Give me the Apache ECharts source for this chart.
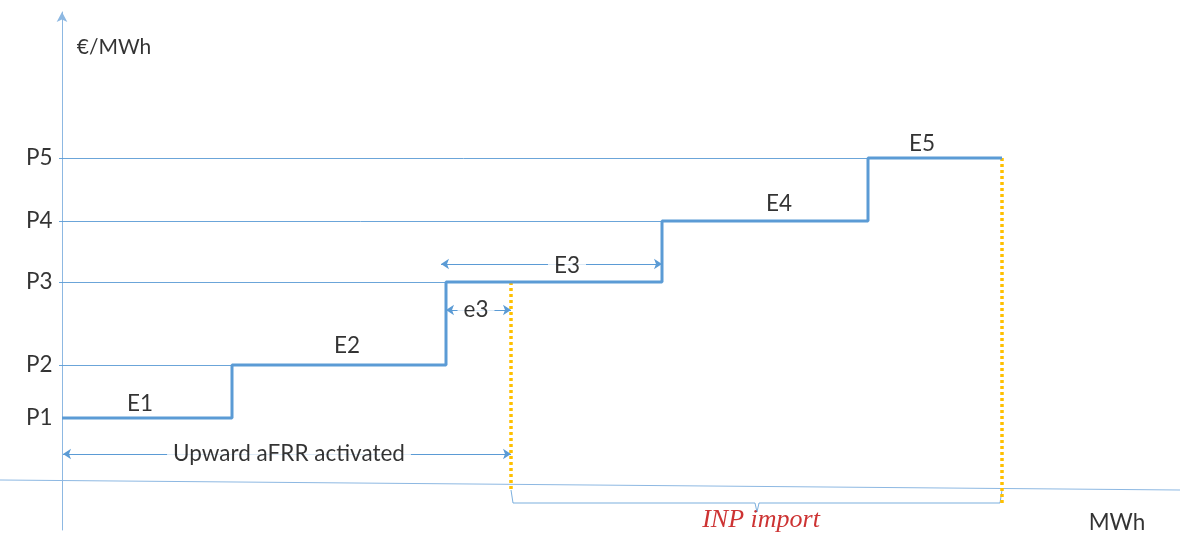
<!DOCTYPE html>
<html>
<head>
<meta charset="utf-8">
<script src="https://cdn.jsdelivr.net/npm/echarts@6/dist/echarts.min.js"></script>
<style>
  html, body { margin: 0; padding: 0; background: #fff; }
  #main { width: 1180px; height: 534px; }
</style>
</head>
<body>
<div id="main"></div>
<script>
// quantity breakpoints of the bid ladder (MWh, arbitrary units)
const quantities = [0, 1.7, 3.84, 6.0, 8.06, 9.4];
// price levels P1..P5 (arbitrary units)
const prices = [6.6, 11.9, 20.2, 26.3, 32.6];
const priceLabels = ["P1", "P2", "P3", "P4", "P5"];
const energyLabels = ["E1", "E2", "E3", "E4", "E5"];
// activated upward aFRR quantity
const activated = 4.49;

const blue = "#5B9BD5";
const axisBlue = "#8DB8E2";
const yellow = "#FFC000";
const font = "Lato";
const fontSize = 22.5;

// step curve points
const stepData = quantities.map((q, i) => [q, prices[Math.min(i, prices.length - 1)]]);

// thin level lines from the price axis to where each level starts
const levelLines = prices.slice(1).map((p, i) => ({
  coords: [[-0.03, p], [quantities[i + 1], p]]
}));

// label anchors for E1..E5 (x, y in chart units)
const energyLabelPos = [[0.78, 8.0], [2.85, 13.8], [5.05, 21.8], [7.17, 28.0], [8.6, 34.0]];
// labels that sit on a dimension arrow get a white box to break the line
const boxed = { E3: true, e3: true, "Upward aFRR activated": true };

const textItems = energyLabels.map((t, i) => ({ name: t, value: energyLabelPos[i] })).concat([
  { name: "e3", value: [4.14, 17.4] },
  { name: "Upward aFRR activated", value: [2.27, 3.0] },
  { name: "€/MWh", value: [0.52, 43.7], label: { fontSize: 21 } },
  { name: "MWh", value: [10.55, -3.9] },
  {
    name: "INP import", value: [6.99, -3.6],
    label: { color: "#C00000", fontStyle: "italic", fontFamily: "Liberation Serif", fontSize: 26 }
  }
]).map(d => {
  d.label = Object.assign({ backgroundColor: boxed[d.name] ? "#fff" : "transparent" }, d.label || {});
  return d;
});

const option = {
  animation: false,
  grid: { left: 0, right: 0, top: 12, bottom: 4 },
  xAxis: {
    type: "value",
    min: -0.62,
    max: 11.18,
    axisLine: { show: false },
    axisTick: { show: false },
    axisLabel: { show: false },
    splitLine: { show: false }
  },
  yAxis: {
    type: "value",
    min: -4.6,
    max: 47.2,
    axisLine: {
      show: true,
      onZero: true,
      symbol: ["none", "arrow"],
      symbolSize: [8, 10],
      lineStyle: { color: axisBlue, width: 1 }
    },
    axisTick: { show: false },
    axisLabel: { show: false },
    splitLine: { show: false }
  },
  series: [
    {
      // quantity axis (drawn slightly sloped as in the sketch)
      type: "lines",
      coordinateSystem: "cartesian2d",
      lineStyle: { color: axisBlue, width: 1, opacity: 1 },
      symbol: "none",
      data: [{ coords: [[-0.62, 0.4], [11.18, -0.6]] }],
      z: 1
    },
    {
      type: "lines",
      coordinateSystem: "cartesian2d",
      lineStyle: { color: blue, width: 1, opacity: 0.9 },
      symbol: "none",
      data: levelLines,
      z: 2
    },
    {
      type: "lines",
      coordinateSystem: "cartesian2d",
      lineStyle: { color: yellow, width: 3.5, type: [3, 3], opacity: 1 },
      symbol: "none",
      data: [
        { coords: [[activated, prices[2]], [activated, -0.6]] },
        { coords: [[quantities[5], prices[4]], [quantities[5], -2.1]] }
      ],
      z: 3
    },
    {
      type: "line",
      step: "end",
      data: stepData,
      showSymbol: false,
      lineStyle: { color: blue, width: 3 },
      z: 4
    },
    {
      // dimension arrows
      type: "lines",
      coordinateSystem: "cartesian2d",
      symbol: ["arrow", "arrow"],
      symbolSize: 8,
      lineStyle: { color: blue, width: 1, opacity: 1 },
      data: [
        { coords: [[0.01, 3.0], [activated, 3.0]] },
        { coords: [[quantities[2] - 0.05, 22.0], [quantities[3], 22.0]] },
        { coords: [[quantities[2], 17.4], [activated, 17.4]] }
      ],
      z: 3
    },
    {
      // INP import brace
      type: "lines",
      coordinateSystem: "cartesian2d",
      polyline: true,
      symbol: "none",
      lineStyle: { color: blue, width: 1, opacity: 0.8 },
      data: [{
        coords: [[activated, -0.6], [activated + 0.02, -1.9], [6.93, -1.9], [6.95, -2.8],
                 [6.97, -1.9], [quantities[5] - 0.02, -1.9], [quantities[5], -0.6]]
      }],
      z: 2
    },
    {
      // texts
      type: "scatter",
      symbolSize: 1,
      itemStyle: { color: "rgba(0,0,0,0)" },
      label: {
        show: true,
        position: "inside",
        formatter: "{b}",
        color: "#000",
        fontFamily: font,
        fontSize: fontSize,
        padding: [0, 6]
      },
      data: textItems,
      z: 6
    },
    {
      // price labels on the vertical axis
      type: "scatter",
      symbolSize: 1,
      itemStyle: { color: "rgba(0,0,0,0)" },
      label: {
        show: true,
        position: "left",
        distance: 9,
        formatter: "{b}",
        color: "#000",
        fontFamily: font,
        fontSize: fontSize
      },
      data: prices.map((p, i) => ({ name: priceLabels[i], value: [0, p] })),
      z: 6
    }
  ]
};

const chart = echarts.init(document.getElementById("main"));
chart.setOption(option);
</script>
</body>
</html>
